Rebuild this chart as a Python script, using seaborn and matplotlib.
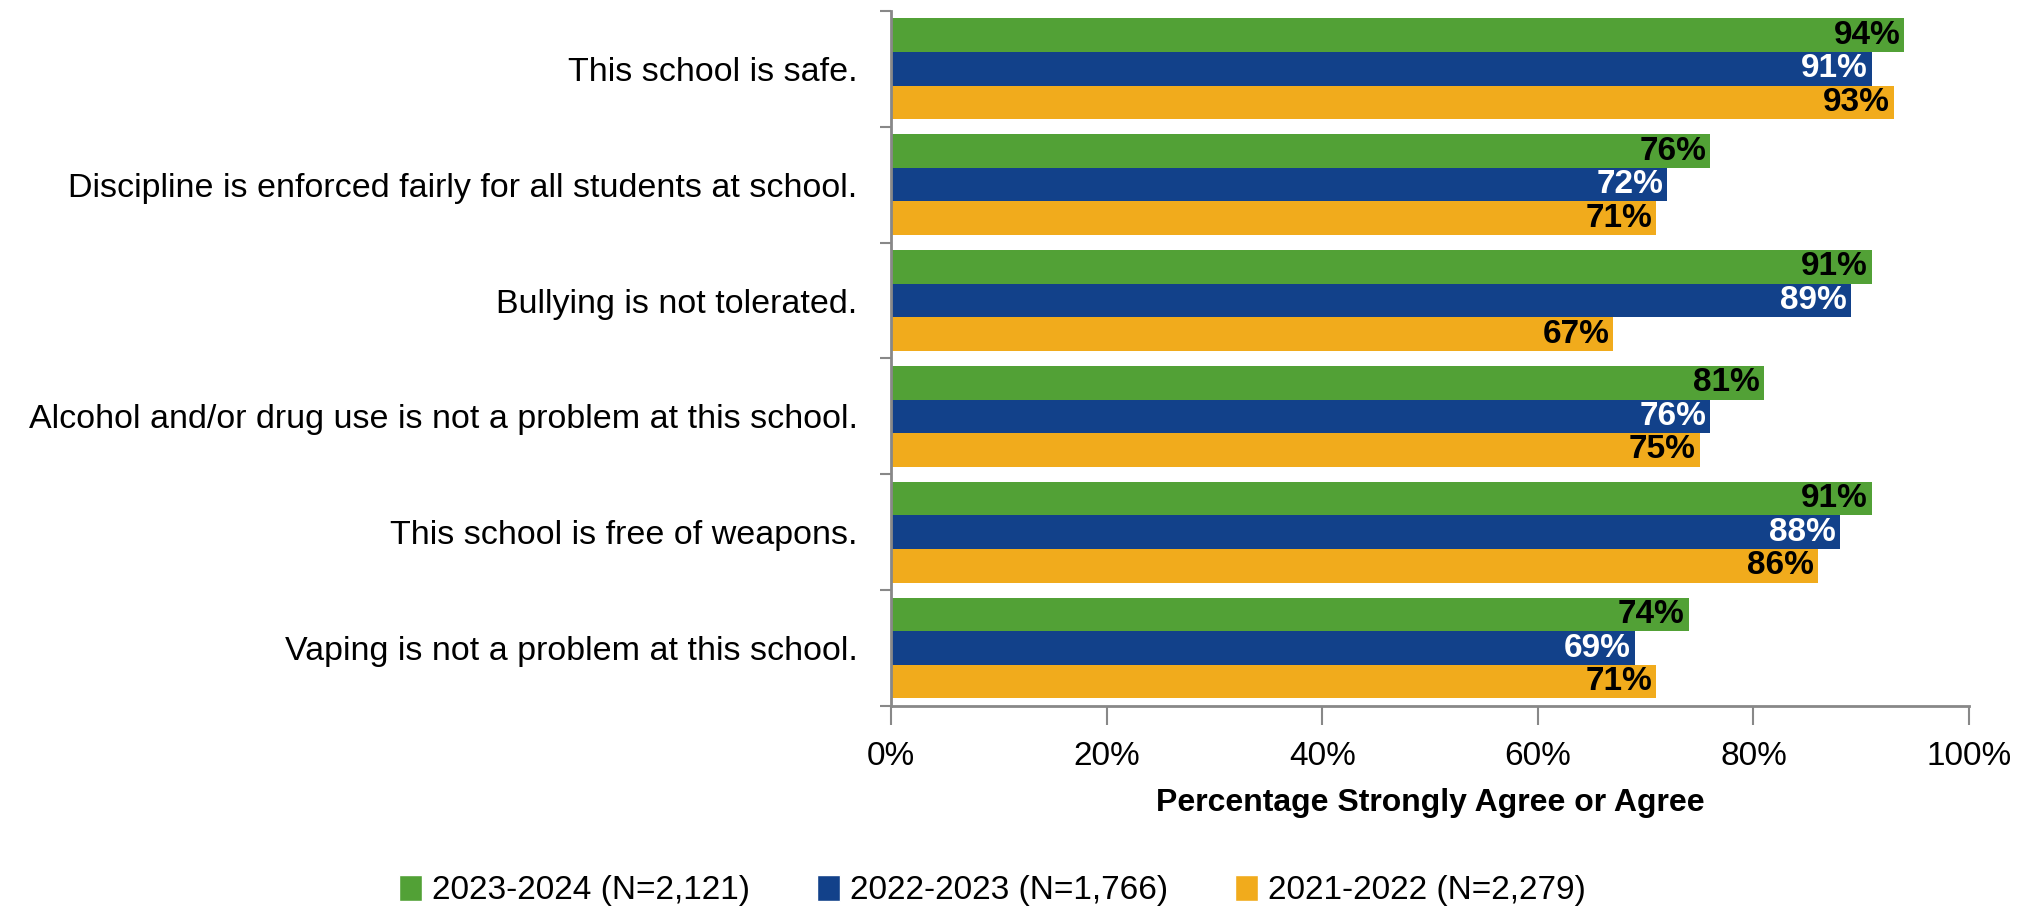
import seaborn as sns
import matplotlib.pyplot as plt
import pandas as pd
import numpy as np
from matplotlib.patches import Patch

statements = [
    'This school is safe.',
    'Discipline is enforced fairly for all students at school.',
    'Bullying is not tolerated.',
    'Alcohol and/or drug use is not a problem at this school.',
    'This school is free of weapons.',
    'Vaping is not a problem at this school.',
]
years = ['2023-2024 (N=2,121)', '2022-2023 (N=1,766)', '2021-2022 (N=2,279)']
pct_2024 = [94, 76, 91, 81, 91, 74]
pct_2023 = [91, 72, 89, 76, 88, 69]
pct_2022 = [93, 71, 67, 75, 86, 71]
colors = ['#52A136', '#12418A', '#F1AB1C']
label_colors = ['black', 'white', 'black']

sns.set_style('white')
plt.rcParams['font.family'] = ['Liberation Sans', 'DejaVu Sans']
plt.rcParams['text.color'] = 'black'
plt.rcParams['axes.labelcolor'] = 'black'
plt.rcParams['xtick.color'] = 'black'
plt.rcParams['ytick.color'] = 'black'

df = pd.DataFrame({
    'statement': statements * 3,
    'year': [y for y in years for _ in statements],
    'pct': pct_2024 + pct_2023 + pct_2022,
})

fig = plt.figure(figsize=(20.3, 9.09), dpi=100)
ax = fig.add_axes([0.4389, 0.2233, 0.9700 - 0.4389, 0.9880 - 0.2233])

sns.barplot(data=df, y='statement', x='pct', hue='year', hue_order=years,
            order=statements, palette=colors, orient='h', width=0.87,
            linewidth=0, saturation=1, ax=ax, legend=False)

# value labels inside bar ends
for cont, lc in zip(ax.containers, label_colors):
    txts = ax.bar_label(cont, labels=['{:.0f}%'.format(v) for v in cont.datavalues],
                        padding=-3, color=lc, fontsize=24, fontweight='bold')
    for t in txts:
        t.set_horizontalalignment('right')

ax.set_xlim(0, 100)
ax.set_ylim(5.5, -0.5)
ax.set_xticks(np.arange(0, 101, 20))
ax.set_xticklabels(['{}%'.format(v) for v in range(0, 101, 20)], fontsize=24)
ax.set_yticks(range(len(statements)))
ax.set_yticklabels(statements, fontsize=24.5)
ax.set_yticks(np.arange(-0.5, 6, 1), minor=True)
ax.tick_params(bottom=True, left=True)
ax.tick_params(axis='y', which='major', length=0, pad=24)
ax.tick_params(axis='y', which='minor', left=True, length=8,
               color='#888888', width=1.5)
ax.tick_params(axis='x', length=14, color='#888888', width=1.5,
               labelcolor='black', pad=11)
ax.set_xlabel('Percentage Strongly Agree or Agree', fontsize=23,
              fontweight='bold', labelpad=12)
ax.set_ylabel('')

for side in ['top', 'right']:
    ax.spines[side].set_visible(False)
for side in ['left', 'bottom']:
    ax.spines[side].set_color('#888888')
    ax.spines[side].set_linewidth(2)

handles = [Patch(facecolor=c, label=y) for c, y in zip(colors, years)]
fig.legend(handles=handles, loc='center', bbox_to_anchor=(0.489, 0.02),
           ncol=3, frameon=False, fontsize=24, handlelength=0.7,
           handleheight=0.8, handletextpad=0.3, columnspacing=2.0)

plt.savefig('out.png', dpi=100)
